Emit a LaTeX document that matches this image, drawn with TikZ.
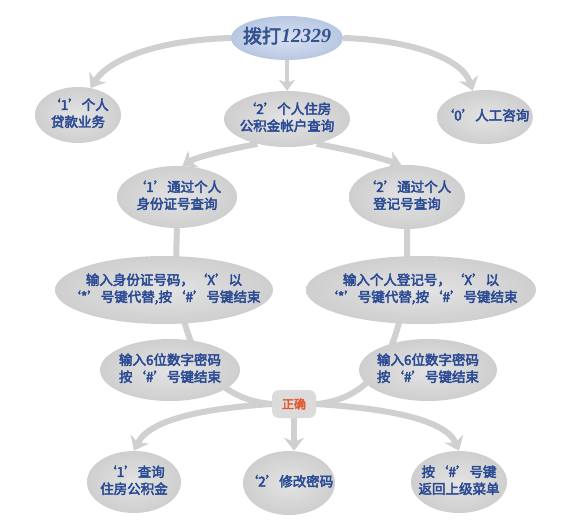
\documentclass[tikz,border=0pt]{standalone}
\usepackage{fontspec}
\setmainfont{Noto Sans CJK SC}[AutoFakeBold=3.2]
\newfontfamily\numfont{Liberation Serif}
\usetikzlibrary{arrows.meta,shapes.geometric}
\definecolor{txt}{HTML}{2A4A94}
\definecolor{toptxt}{HTML}{34528F}
\definecolor{conn}{HTML}{D0D0D0}
\definecolor{oktxt}{HTML}{E4562C}
\pgfdeclarelayer{bg}
\pgfsetlayers{bg,main}
\newcommand\zb[1]{\makebox[0pt][c]{\begin{tabular}{@{}c@{}}#1\end{tabular}}}
\tikzset{
  bub/.style={ellipse, inner sep=0pt, shading=radial, inner color=gray!22, outer color=gray!38,
    text=txt, font=\bfseries\fontsize{13.5}{17}\selectfont, align=center},
  topbub/.style={ellipse, inner sep=0pt, shading=radial, inner color={rgb,255:red,216;green,226;blue,241},
    outer color={rgb,255:red,184;green,199;blue,226}, text=toptxt, font=\bfseries\fontsize{19}{20}\selectfont},
  okbox/.style={rectangle, rounded corners=7pt, inner sep=0pt, fill=gray!28, text=oktxt,
    font=\bfseries\fontsize{12}{12}\selectfont, minimum width=44pt, minimum height=28pt},
  arr/.style={draw=conn, line width=6pt, -{Stealth[length=13pt,width=20pt,inset=4pt,color=conn]}},
  arrs/.style={draw=conn, line width=4pt, -{Stealth[length=11pt,width=16pt,inset=3pt,color=conn]}},
  lnk/.style={draw=conn, line width=6pt},
}
\begin{document}
\begin{tikzpicture}[x=1pt,y=-1pt]
\useasboundingbox (0,0) rectangle (583,521);
\node[topbub, minimum width=112pt, minimum height=44pt] (top) at (287,38) {\zb{拨打{\numfont\bfseries\itshape\fontsize{20}{20}\selectfont 12329}}};
\node[bub, minimum width=86pt, minimum height=56pt] (b1) at (78,115) {\zb{‘1’个人\\贷款业务}};
\node[bub, minimum width=126pt, minimum height=56pt] (b2) at (287,119) {\zb{‘2’个人住房\\公积金帐户查询}};
\node[bub, minimum width=96pt, minimum height=54pt] (b0) at (485,117) {\zb{‘0’人工咨询}};
\node[bub, minimum width=120pt, minimum height=62pt] (q1) at (177,197) {\zb{‘1’通过个人\\身份证号查询}};
\node[bub, minimum width=116pt, minimum height=64pt] (q2) at (407,197) {\zb{‘2’通过个人\\登记号查询}};
\node[bub, minimum width=218pt, minimum height=68pt] (in1) at (164,290) {\zb{输入身份证号码，‘X’以\\‘*’号键代替,按‘\#’号键结束}};
\node[bub, minimum width=230pt, minimum height=68pt] (in2) at (421,290) {\zb{输入个人登记号，‘X’以\\‘*’号键代替,按‘\#’号键结束}};
\node[bub, minimum width=140pt, minimum height=62pt] (pw1) at (170,370) {\zb{输入6位数字密码\\按‘\#’号键结束}};
\node[bub, minimum width=138pt, minimum height=62pt] (pw2) at (428,370) {\zb{输入6位数字密码\\按‘\#’号键结束}};
\node[okbox] (ok) at (294,404) {正确};
\node[bub, minimum width=94pt, minimum height=62pt] (r1) at (134,482) {\zb{‘1’查询\\住房公积金}};
\node[bub, minimum width=92pt, minimum height=64pt] (r2) at (289,483) {\zb{‘2’修改密码}};
\node[bub, minimum width=96pt, minimum height=62pt] (r3) at (459,482) {\zb{按‘\#’号键\\返回上级菜单}};
\begin{pgfonlayer}{bg}
\fill[white] (0,0) rectangle (583,521);
\draw[arr] (top.west) .. controls (160,40) and (110,58) .. (b1.65);
\draw[arr] (top.east) .. controls (410,40) and (462,58) .. (b0.115);
\draw[arrs] (top.south) -- (b2.north);
\draw[arr] (b2.220) .. controls (215,152) and (195,158) .. (q1.80);
\draw[arr] (b2.-40) .. controls (360,152) and (380,158) .. (q2.100);
\draw[lnk] (q1.south) .. controls (172,330) and (200,398) .. (ok.west);
\draw[lnk] (q2.south) .. controls (410,330) and (385,398) .. (ok.east);
\draw[arr] (ok.west) .. controls (210,408) and (150,418) .. (r1.north);
\draw[arr] (ok.south) -- (ok.south |- r2.north);
\draw[arr] (ok.east) .. controls (380,408) and (445,418) .. (r3.north);
\end{pgfonlayer}
\end{tikzpicture}
\end{document}
